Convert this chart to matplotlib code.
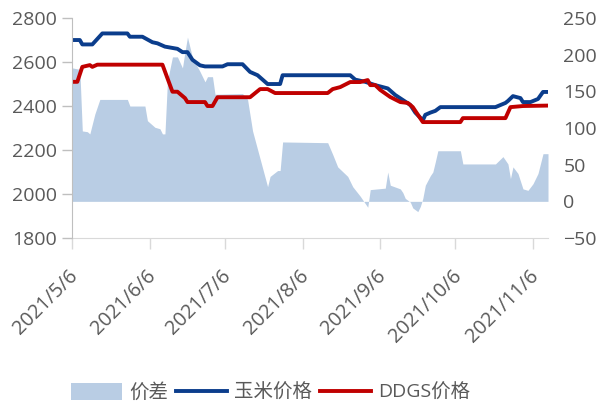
import pandas as pd
import matplotlib
matplotlib.use("Agg")
import matplotlib.pyplot as plt
from matplotlib.patches import Patch
from matplotlib.lines import Line2D
from matplotlib.transforms import ScaledTranslation

plt.rcParams["font.family"] = ["Open Sans", "Noto Sans CJK SC", "DejaVu Sans"]

# ---- data ----------------------------------------------------------------
corn_dates = ["2021-05-06", "2021-05-09", "2021-05-10", "2021-05-14", "2021-05-18", "2021-05-28",
              "2021-05-29", "2021-06-03", "2021-06-07", "2021-06-09", "2021-06-12", "2021-06-17",
              "2021-06-19", "2021-06-21", "2021-06-23", "2021-06-26", "2021-06-28", "2021-07-05",
              "2021-07-07", "2021-07-13", "2021-07-16", "2021-07-19", "2021-07-23", "2021-07-28",
              "2021-07-29", "2021-08-25", "2021-08-27", "2021-08-31", "2021-09-04", "2021-09-09",
              "2021-09-12", "2021-09-14", "2021-09-18", "2021-09-20", "2021-09-23", "2021-09-24",
              "2021-09-26", "2021-09-28", "2021-09-30", "2021-10-22", "2021-10-26", "2021-10-27",
              "2021-10-29", "2021-11-01", "2021-11-02", "2021-11-05", "2021-11-08", "2021-11-10",
              "2021-11-12"]
corn_price = [2700, 2700, 2680, 2680, 2730, 2730,
              2715, 2715, 2690, 2685, 2670, 2660,
              2645, 2645, 2610, 2585, 2580, 2580,
              2590, 2590, 2555, 2540, 2500, 2500,
              2540, 2540, 2520, 2510, 2495, 2480,
              2450, 2435, 2405, 2370, 2335, 2360,
              2370, 2378, 2395, 2395, 2414, 2423,
              2445, 2436, 2418, 2418, 2432, 2464,
              2464]

ddgs_dates = ["2021-05-06", "2021-05-08", "2021-05-10", "2021-05-13", "2021-05-14", "2021-05-16",
              "2021-06-11", "2021-06-15", "2021-06-17", "2021-06-20", "2021-06-21", "2021-06-28",
              "2021-06-29", "2021-07-01", "2021-07-03", "2021-07-16", "2021-07-20", "2021-07-23",
              "2021-07-26", "2021-08-16", "2021-08-18", "2021-08-21", "2021-08-25", "2021-08-29",
              "2021-09-01", "2021-09-02", "2021-09-04", "2021-09-06", "2021-09-10", "2021-09-14",
              "2021-09-17", "2021-09-19", "2021-09-23", "2021-10-08", "2021-10-09", "2021-10-26",
              "2021-10-28", "2021-11-02", "2021-11-12"]
ddgs_price = [2510, 2510, 2578, 2586, 2578, 2588,
              2588, 2465, 2465, 2436, 2418, 2418,
              2400, 2400, 2440, 2440, 2477, 2477,
              2459, 2459, 2477, 2486, 2509, 2509,
              2518, 2495, 2495, 2473, 2441, 2418,
              2414, 2395, 2327, 2327, 2345, 2345,
              2395, 2400, 2402]

spread_dates = ["2021-05-06", "2021-05-09", "2021-05-10", "2021-05-12", "2021-05-13", "2021-05-15",
                "2021-05-17", "2021-05-28", "2021-05-29", "2021-06-04", "2021-06-05", "2021-06-08",
                "2021-06-10", "2021-06-11", "2021-06-12", "2021-06-13", "2021-06-15", "2021-06-17",
                "2021-06-19", "2021-06-20", "2021-06-21", "2021-06-23", "2021-06-26", "2021-06-28",
                "2021-06-29", "2021-07-01", "2021-07-02", "2021-07-13", "2021-07-15", "2021-07-17",
                "2021-07-23", "2021-07-24", "2021-07-27", "2021-07-28", "2021-07-29", "2021-08-16",
                "2021-08-18", "2021-08-20", "2021-08-24", "2021-08-26", "2021-08-29", "2021-08-31",
                "2021-09-01", "2021-09-02", "2021-09-08", "2021-09-09", "2021-09-10", "2021-09-14",
                "2021-09-15", "2021-09-16", "2021-09-18", "2021-09-19", "2021-09-21", "2021-09-22",
                "2021-09-23", "2021-09-24", "2021-09-26", "2021-09-27", "2021-09-28", "2021-09-29",
                "2021-10-08", "2021-10-09", "2021-10-22", "2021-10-25", "2021-10-27", "2021-10-28",
                "2021-10-29", "2021-10-31", "2021-11-02", "2021-11-04", "2021-11-06", "2021-11-08",
                "2021-11-10", "2021-11-12"]
spread = [182, 180, 96, 95, 92, 119,
          139, 139, 130, 130, 110, 101,
          99, 92, 92, 164, 197, 197,
          182, 204, 224, 196, 177, 163,
          170, 170, 146, 147, 139, 96,
          20, 34, 42, 42, 81, 80,
          64, 47, 34, 20, 7, -3,
          -8, 16, 18, 40, 22, 17,
          12, 4, -1, -9, -14, -7,
          4, 22, 35, 40, 54, 69,
          69, 51, 51, 61, 51, 31,
          47, 38, 17, 15, 24, 38,
          65, 65]

tick_dates = ["2021-05-06", "2021-06-06", "2021-07-06", "2021-08-06",
              "2021-09-06", "2021-10-06", "2021-11-06"]

AREA, BLUE, RED = "#b9cde4", "#0b3d8c", "#c00000"
TXT, SPINE = "#595959", "#bfbfbf"

fig = plt.figure(figsize=(5.98, 4.07), dpi=100)
ax = fig.add_axes([0.1209, 0.4152, 0.7955, 0.5405])   # spread axis (right scale)
ax2 = ax.twinx()                                     # price axis (left scale)

ax.fill_between(pd.to_datetime(spread_dates), 0, spread, color=AREA, lw=0)
ax2.plot(pd.to_datetime(corn_dates), corn_price, color=BLUE, lw=2.8, solid_joinstyle="round")
ax2.plot(pd.to_datetime(ddgs_dates), ddgs_price, color=RED, lw=2.8, solid_joinstyle="round")

ax.set_ylim(-50, 250)
ax.set_yticks(range(-50, 251, 50))
ax2.set_ylim(1800, 2800)
ax2.set_yticks(range(1800, 2801, 200))
ax.yaxis.tick_right()
ax2.yaxis.tick_left()
ax.tick_params(axis="y", length=0, pad=11, labelsize=14, labelcolor=TXT)
ax2.tick_params(axis="y", length=7, width=1, color=SPINE, pad=4, labelsize=14, labelcolor=TXT)

ax.set_xlim(pd.Timestamp("2021-05-06"), pd.Timestamp("2021-11-12"))
ticks = pd.to_datetime(tick_dates)
ax.set_xticks(ticks)
ax.set_xticklabels([f"{d.year}/{d.month}/{d.day}" for d in ticks], rotation=45,
                   ha="right", va="top", rotation_mode="anchor")
ax.tick_params(axis="x", length=8, width=1, color="#d9d9d9", pad=7, labelsize=14.3, labelcolor=TXT)
shift = ScaledTranslation(-4 / 100, -7 / 100, fig.dpi_scale_trans)
for lbl in ax.get_xticklabels():
    lbl.set_transform(lbl.get_transform() + shift)

for a in (ax, ax2):
    for side in ("top", "right", "left", "bottom"):
        a.spines[side].set_visible(False)
ax2.spines["left"].set_visible(True)
ax2.spines["left"].set_color(SPINE)
ax.spines["bottom"].set_visible(True)
ax.spines["bottom"].set_color("#d9d9d9")

handles = [Patch(color=AREA, lw=0),
           Line2D([], [], color=BLUE, lw=2.8),
           Line2D([], [], color=RED, lw=2.8)]
fig.legend(handles, ["价差", "玉米价格", "DDGS价格"], loc="center", bbox_to_anchor=(0.453, 0.035),
           ncol=3, frameon=False, fontsize=14, labelcolor=TXT, handlelength=2.6,
           handleheight=0.9, handletextpad=0.4, columnspacing=0.4)

fig.savefig("out.png", dpi=100)
